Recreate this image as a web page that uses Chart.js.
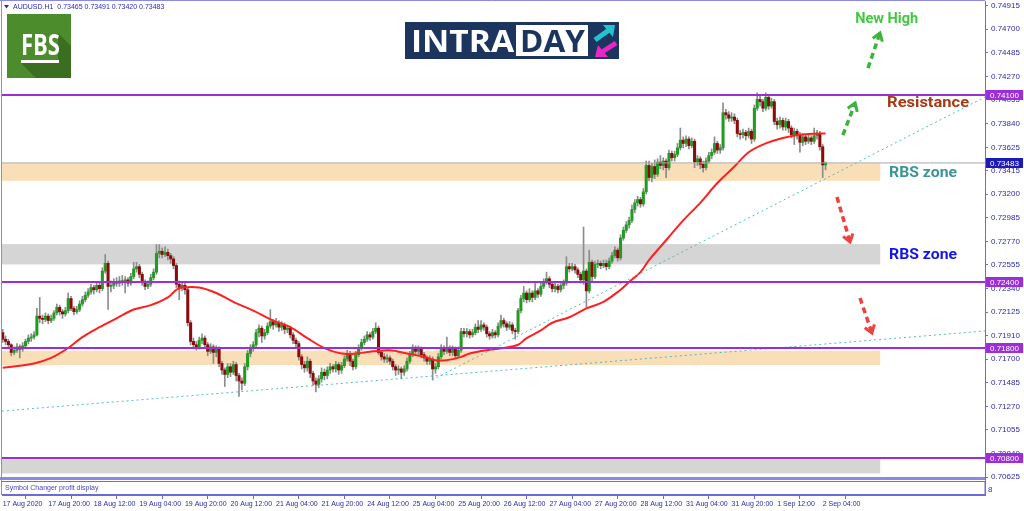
<!DOCTYPE html>
<html>
<head>
<meta charset="utf-8">
<title>AUDUSD H1</title>
<script src="https://cdn.jsdelivr.net/npm/chart.js@4.4.0/dist/chart.umd.min.js"></script>
<style>
  html, body { margin: 0; padding: 0; background: #fff; }
  canvas { display: block; }
</style>
</head>
<body>
<canvas id="chart" width="1024" height="511"></canvas>
<script>
// AUDUSD H1 candles (one entry per hour bar)
const firstOpen = 0.7194;
const closes = [
  0.7188,0.7186,0.7183,0.7176,0.7178,0.7181,0.7179,0.7182,0.7186,0.7189,
  0.7190,0.7192,0.7209,0.7207,0.7206,0.7209,0.7205,0.7207,0.7212,0.7217,
  0.7213,0.7211,0.7214,0.7225,0.7216,0.7213,0.7215,0.7220,0.7224,0.7228,
  0.7231,0.7235,0.7233,0.7237,0.7234,0.7250,0.7257,0.7236,0.7237,0.7240,
  0.7239,0.7241,0.7240,0.7242,0.7239,0.7245,0.7252,0.7254,0.7247,0.7240,
  0.7236,0.7238,0.7244,0.7249,0.7266,0.7268,0.7265,0.7267,0.7264,0.7261,
  0.7255,0.7238,0.7235,0.7237,0.7233,0.7203,0.7186,0.7183,0.7181,0.7187,
  0.7189,0.7183,0.7177,0.7181,0.7176,0.7179,0.7166,0.7160,0.7156,0.7163,
  0.7158,0.7165,0.7155,0.7150,0.7148,0.7163,0.7175,0.7180,0.7183,0.7194,
  0.7198,0.7191,0.7194,0.7200,0.7204,0.7201,0.7203,0.7199,0.7201,0.7197,
  0.7198,0.7192,0.7187,0.7184,0.7172,0.7165,0.7162,0.7168,0.7157,0.7150,
  0.7147,0.7152,0.7158,0.7155,0.7160,0.7163,0.7161,0.7165,0.7160,0.7164,
  0.7170,0.7175,0.7168,0.7163,0.7174,0.7180,0.7185,0.7188,0.7192,0.7190,
  0.7195,0.7198,0.7176,0.7172,0.7170,0.7171,0.7168,0.7163,0.7160,0.7161,
  0.7158,0.7161,0.7168,0.7174,0.7180,0.7177,0.7179,0.7174,0.7171,0.7168,
  0.7170,0.7161,0.7163,0.7172,0.7180,0.7177,0.7180,0.7176,0.7179,0.7173,
  0.7178,0.7195,0.7193,0.7195,0.7192,0.7194,0.7199,0.7197,0.7201,0.7199,
  0.7193,0.7191,0.7194,0.7192,0.7200,0.7205,0.7202,0.7199,0.7201,0.7196,
  0.7195,0.7214,0.7225,0.7230,0.7224,0.7230,0.7226,0.7232,0.7229,0.7236,
  0.7240,0.7243,0.7238,0.7234,0.7236,0.7233,0.7237,0.7239,0.7254,0.7252,
  0.7254,0.7251,0.7247,0.7242,0.7250,0.7232,0.7258,0.7245,0.7256,0.7257,
  0.7255,0.7257,0.7254,0.7259,0.7264,0.7269,0.7262,0.7280,0.7287,0.7292,
  0.7296,0.7306,0.7312,0.7315,0.7311,0.7322,0.7346,0.7335,0.7345,0.7338,
  0.7349,0.7346,0.7350,0.7344,0.7357,0.7353,0.7356,0.7362,0.7369,0.7366,
  0.7370,0.7364,0.7368,0.7349,0.7352,0.7347,0.7344,0.7350,0.7355,0.7358,
  0.7366,0.7360,0.7362,0.7394,0.7392,0.7389,0.7390,0.7387,0.7375,0.7374,
  0.7376,0.7373,0.7377,0.7370,0.7398,0.7406,0.7404,0.7398,0.7408,0.7400,
  0.7404,0.7386,0.7383,0.7387,0.7381,0.7386,0.7380,0.7374,0.7377,0.7374,
  0.7367,0.7372,0.7368,0.7371,0.7368,0.7373,0.7375,0.7363,0.73465,0.73483
];
const highs = [
  0.7197,0.7191,0.7188,0.7184,0.7181,0.7184,0.7183,0.7185,0.7188,0.7192,
  0.7193,0.7195,0.7216,0.7226,0.7210,0.7212,0.7211,0.7210,0.7214,0.7220,
  0.7219,0.7215,0.7217,0.7230,0.7227,0.7218,0.7218,0.7223,0.7227,0.7231,
  0.7234,0.7238,0.7237,0.7240,0.7239,0.7253,0.7265,0.7259,0.7241,0.7243,
  0.7244,0.7245,0.7246,0.7245,0.7244,0.7248,0.7258,0.7258,0.7256,0.7249,
  0.7242,0.7241,0.7247,0.7252,0.7274,0.7274,0.7271,0.7272,0.7270,0.7266,
  0.7263,0.7257,0.7241,0.7240,0.7239,0.7235,0.7205,0.7189,0.7186,0.7190,
  0.7193,0.7191,0.7185,0.7184,0.7183,0.7182,0.7181,0.7168,0.7162,0.7166,
  0.7166,0.7168,0.7167,0.7157,0.7153,0.7166,0.7178,0.7183,0.7186,0.7197,
  0.7201,0.7200,0.7197,0.7203,0.7215,0.7206,0.7207,0.7205,0.7204,0.7203,
  0.7201,0.7200,0.7194,0.7189,0.7186,0.7174,0.7168,0.7172,0.7170,0.7159,
  0.7153,0.7155,0.7162,0.7161,0.7163,0.7166,0.7165,0.7168,0.7167,0.7167,
  0.7173,0.7178,0.7177,0.7170,0.7177,0.7183,0.7188,0.7191,0.7195,0.7194,
  0.7198,0.7203,0.7200,0.7178,0.7175,0.7174,0.7173,0.7170,0.7165,0.7164,
  0.7163,0.7164,0.7171,0.7177,0.7183,0.7182,0.7182,0.7181,0.7176,0.7173,
  0.7173,0.7172,0.7166,0.7175,0.7183,0.7182,0.7190,0.7182,0.7182,0.7181,
  0.7181,0.7198,0.7198,0.7198,0.7197,0.7197,0.7202,0.7205,0.7205,0.7203,
  0.7201,0.7195,0.7197,0.7196,0.7203,0.7210,0.7207,0.7204,0.7204,0.7203,
  0.7198,0.7216,0.7228,0.7236,0.7232,0.7234,0.7232,0.7239,0.7234,0.7239,
  0.7243,0.7249,0.7245,0.7240,0.7239,0.7238,0.7240,0.7242,0.7263,0.7257,
  0.7257,0.7256,0.7253,0.7249,0.7290,0.7252,0.7269,0.7260,0.7259,0.7260,
  0.7259,0.7260,0.7260,0.7262,0.7267,0.7272,0.7271,0.7283,0.7290,0.7295,
  0.7299,0.7310,0.7315,0.7318,0.7317,0.7325,0.7350,0.7350,0.7348,0.7351,
  0.7352,0.7355,0.7353,0.7352,0.7360,0.7359,0.7359,0.7366,0.7380,0.7372,
  0.7373,0.7372,0.7371,0.7370,0.7355,0.7354,0.7350,0.7353,0.7358,0.7361,
  0.7372,0.7368,0.7365,0.7403,0.7397,0.7395,0.7394,0.7393,0.7389,0.7378,
  0.7379,0.7378,0.7380,0.7379,0.7401,0.7412,0.7410,0.7406,0.7412,0.7410,
  0.7407,0.7406,0.7389,0.7390,0.7389,0.7389,0.7388,0.7382,0.7380,0.7379,
  0.7376,0.7375,0.7374,0.7374,0.7373,0.7380,0.7378,0.7377,0.7365,0.73491
];
const lows = [
  0.7185,0.7183,0.7180,0.7173,0.7174,0.7176,0.7171,0.7177,0.7180,0.7184,
  0.7186,0.7188,0.7191,0.7203,0.7202,0.7204,0.7202,0.7203,0.7205,0.7210,
  0.7210,0.7207,0.7209,0.7212,0.7214,0.7210,0.7211,0.7213,0.7218,0.7222,
  0.7226,0.7229,0.7229,0.7231,0.7230,0.7232,0.7248,0.7215,0.7231,0.7234,
  0.7236,0.7236,0.7237,0.7230,0.7236,0.7237,0.7243,0.7249,0.7244,0.7237,
  0.7233,0.7234,0.7236,0.7242,0.7247,0.7262,0.7262,0.7263,0.7260,0.7257,
  0.7252,0.7235,0.7224,0.7232,0.7229,0.7200,0.7183,0.7180,0.7178,0.7179,
  0.7184,0.7180,0.7173,0.7175,0.7166,0.7172,0.7163,0.7156,0.7145,0.7153,
  0.7154,0.7156,0.7150,0.7136,0.7142,0.7146,0.7160,0.7172,0.7177,0.7181,
  0.7190,0.7185,0.7188,0.7192,0.7198,0.7197,0.7199,0.7195,0.7196,0.7193,
  0.7194,0.7189,0.7184,0.7181,0.7169,0.7161,0.7158,0.7159,0.7153,0.7146,
  0.7140,0.7144,0.7149,0.7151,0.7152,0.7157,0.7158,0.7158,0.7156,0.7157,
  0.7162,0.7168,0.7164,0.7160,0.7161,0.7172,0.7178,0.7183,0.7186,0.7187,
  0.7188,0.7193,0.7174,0.7169,0.7167,0.7167,0.7165,0.7160,0.7155,0.7156,
  0.7152,0.7155,0.7159,0.7166,0.7172,0.7174,0.7174,0.7171,0.7168,0.7165,
  0.7165,0.7151,0.7157,0.7161,0.7170,0.7174,0.7175,0.7173,0.7173,0.7170,
  0.7171,0.7176,0.7190,0.7190,0.7189,0.7190,0.7192,0.7194,0.7195,0.7196,
  0.7190,0.7188,0.7189,0.7189,0.7190,0.7198,0.7199,0.7196,0.7197,0.7193,
  0.7188,0.7193,0.7212,0.7222,0.7221,0.7222,0.7222,0.7224,0.7226,0.7227,
  0.7234,0.7238,0.7235,0.7231,0.7231,0.7230,0.7231,0.7234,0.7237,0.7249,
  0.7250,0.7248,0.7244,0.7239,0.7238,0.7217,0.7230,0.7240,0.7243,0.7253,
  0.7252,0.7253,0.7251,0.7252,0.7257,0.7262,0.7259,0.7260,0.7278,0.7285,
  0.7289,0.7294,0.7303,0.7309,0.7308,0.7309,0.7320,0.7332,0.7331,0.7334,
  0.7336,0.7343,0.7342,0.7335,0.7342,0.7350,0.7350,0.7354,0.7360,0.7362,
  0.7363,0.7361,0.7362,0.7344,0.7346,0.7343,0.7340,0.7342,0.7348,0.7352,
  0.7356,0.7357,0.7357,0.7360,0.7388,0.7386,0.7386,0.7384,0.7372,0.7370,
  0.7371,0.7369,0.7371,0.7366,0.7368,0.7396,0.7400,0.7395,0.7396,0.7397,
  0.7398,0.7383,0.7379,0.7380,0.7378,0.7378,0.7376,0.7371,0.7365,0.7370,
  0.7358,0.7364,0.7365,0.7366,0.7365,0.7366,0.7370,0.7360,0.7335,0.73420
];

// red moving average, sampled along the line (bar index, price)
const maBars = [0,11,17,23,28,34,40,46,52,58,61,63,69,75,81,88,95,101,107,113,119,124,130,136,142,
  148,152,156,161,164,170,176,181,184,189,193,199,205,211,217,220,224,227,233,239,245,251,257,262,268,274,280,286,289];
const maValues = [0.7162,0.7166,0.7171,0.7180,0.7190,0.7199,0.7207,0.7215,0.7219,0.7226,0.7233,0.7235,0.7235,0.7230,
  0.7222,0.7214,0.7205,0.7199,0.7189,0.7180,0.7175,0.7175,0.7177,0.7178,0.7175,0.7172,0.7169,0.7169,0.7172,0.7175,
  0.7178,0.7180,0.7183,0.7189,0.7196,0.7203,0.7208,0.7216,0.7222,0.7233,0.7240,0.7249,0.7260,0.7278,0.7296,0.7312,
  0.7330,0.7345,0.7358,0.7366,0.7371,0.7374,0.7375,0.7375];

// time axis: bar index of each label
const tickBars = [0,16,32,48,64,80,96,112,128,144,160,176,192,208,224,240,256,272,288];
const tickLabels = ['17 Aug 2020','17 Aug 20:00','18 Aug 12:00','19 Aug 04:00','19 Aug 20:00','20 Aug 12:00',
  '21 Aug 04:00','21 Aug 20:00','24 Aug 12:00','25 Aug 04:00','25 Aug 20:00','26 Aug 12:00','27 Aug 04:00',
  '27 Aug 20:00','28 Aug 12:00','31 Aug 04:00','31 Aug 20:00','1 Sep 12:00','2 Sep 04:00'];
const priceTicks = [0.74915,0.74700,0.74485,0.74270,0.74055,0.73840,0.73625,0.73415,0.73200,0.72985,0.72770,
  0.72555,0.72340,0.72125,0.71910,0.71700,0.71485,0.71270,0.71055,0.70840,0.70625];

// drawn objects
const levelPrices = [0.74100, 0.72400, 0.71800, 0.70800];
const bidPrice = 0.73483;
const zoneTops = [0.7348, 0.72745, 0.71775, 0.7079];
const zoneBottoms = [0.7332, 0.7256, 0.71645, 0.7066];
const zoneKinds = ['sand', 'grey', 'sand', 'grey'];
const zoneEndBar = 308.2;
const trendFrom = [[-0.25, 0.71227], [150.8, 0.7151]];
const trendTo = [[345, 0.71955], [345, 0.74082]];

const header = 'AUDUSD.H1  0.73465 0.73491 0.73420 0.73483';

const X_MIN = -0.25, X_MAX = 345;
const Y_MIN = 0.70464, Y_MAX = 0.74955;

// colours
const BULL = '#239b23';
const BEAR = '#8b0a0a';
const WICK = '#8c8c8c';
const PURPLE = '#9b2ed6';
const AXIS = '#6a6ad8';
const AXIS_TEXT = '#2b2ba8';
const TEAL_LINE = '#52bcbc';
const zoneFill = { sand: '#f8dfb8', grey: '#d5d5d5' };

const opens = closes.map((c, i) => i === 0 ? firstOpen : closes[i - 1]);

const notes = [
  { text: 'New High', bar: 299.4, price: 0.74791, color: '#44c844', width: 63 },
  { text: 'Resistance', bar: 310.6, price: 0.74027, color: '#a63a16', width: 82 },
  { text: 'RBS zone', bar: 311.3, price: 0.73391, color: '#3d9494', width: 68 },
  { text: 'RBS zone', bar: 311.3, price: 0.72645, color: '#1414e6', width: 68 }
];
const arrows = [
  { from: [303.9, 0.74345], to: [308.1, 0.74664], color: '#3cb43c' },
  { from: [295.1, 0.73736], to: [299.4, 0.74027], color: '#3cb43c' },
  { from: [293.0, 0.73173], to: [297.6, 0.72764], color: '#f04040' },
  { from: [301.1, 0.72255], to: [305.3, 0.71936], color: '#f04040' }
];

function fitText(ctx, text, x, y, width) {
  const w = ctx.measureText(text).width;
  ctx.save();
  ctx.translate(x, y);
  ctx.scale(width / w, 1);
  ctx.fillText(text, 0, 0);
  ctx.restore();
}

function drawArrow(ctx, x1, y1, x2, y2, color) {
  ctx.save();
  ctx.strokeStyle = color;
  ctx.lineWidth = 3.5;
  ctx.setLineDash([6, 4]);
  ctx.beginPath();
  ctx.moveTo(x1, y1);
  ctx.lineTo(x2, y2);
  ctx.stroke();
  ctx.setLineDash([]);
  const a = Math.atan2(y2 - y1, x2 - x1);
  ctx.lineWidth = 3;
  ctx.beginPath();
  ctx.moveTo(x2 - 9 * Math.cos(a - 0.6), y2 - 9 * Math.sin(a - 0.6));
  ctx.lineTo(x2, y2);
  ctx.lineTo(x2 - 9 * Math.cos(a + 0.6), y2 - 9 * Math.sin(a + 0.6));
  ctx.stroke();
  ctx.restore();
}

function priceBox(ctx, yPix, text, bg) {
  ctx.fillStyle = bg;
  ctx.fillRect(986, Math.round(yPix) - 5, 37, 10);
  ctx.fillStyle = '#ffffff';
  ctx.font = '8px "Liberation Sans"';
  ctx.textAlign = 'left';
  ctx.textBaseline = 'middle';
  ctx.fillText(text, 990, Math.round(yPix) + 0.5);
}

function drawLogos(ctx) {
  // FBS badge
  ctx.fillStyle = '#4c8c2c';
  ctx.fillRect(7, 14, 64, 64);
  ctx.fillStyle = '#3a6e21';
  ctx.beginPath();
  ctx.moveTo(58, 33); ctx.lineTo(71, 46); ctx.lineTo(71, 78);
  ctx.lineTo(36, 78); ctx.lineTo(21, 63); ctx.lineTo(58, 63);
  ctx.closePath();
  ctx.fill();
  ctx.fillStyle = '#ffffff';
  ctx.font = 'bold 29px "Open Sans"';
  ctx.textBaseline = 'alphabetic';
  ctx.textAlign = 'left';
  fitText(ctx, 'FBS', 21, 55, 39);
  ctx.fillRect(21, 60, 38, 3);

  // INTRADAY banner
  ctx.fillStyle = '#1b355f';
  ctx.fillRect(405, 22, 214, 37);
  ctx.fillStyle = '#ffffff';
  ctx.fillRect(516, 25, 72, 31);
  ctx.font = 'bold 31px "Open Sans"';
  fitText(ctx, 'INTRA', 411, 52, 103);
  ctx.fillStyle = '#1b355f';
  fitText(ctx, 'DAY', 520, 52, 65);
  ctx.lineCap = 'butt';
  ctx.lineWidth = 5;
  ctx.strokeStyle = '#22c3cf';
  ctx.beginPath(); ctx.moveTo(595, 40); ctx.lineTo(609, 30); ctx.stroke();
  ctx.fillStyle = '#22c3cf';
  ctx.beginPath(); ctx.moveTo(615, 25); ctx.lineTo(603, 25); ctx.lineTo(613, 37); ctx.closePath(); ctx.fill();
  ctx.strokeStyle = '#e827c4';
  ctx.beginPath(); ctx.moveTo(616, 43); ctx.lineTo(602, 52); ctx.stroke();
  ctx.fillStyle = '#e827c4';
  ctx.beginPath(); ctx.moveTo(595, 57); ctx.lineTo(608, 57); ctx.lineTo(598, 45); ctx.closePath(); ctx.fill();
}

const mt4Plugin = {
  id: 'mt4',
  beforeDatasetsDraw(chart) {
    const { ctx, chartArea: area, scales: { x, y } } = chart;
    ctx.save();
    const right = x.getPixelForValue(zoneEndBar);
    zoneKinds.forEach((kind, k) => {
      const top = y.getPixelForValue(zoneTops[k]);
      const bottom = y.getPixelForValue(zoneBottoms[k]);
      ctx.fillStyle = zoneFill[kind];
      ctx.fillRect(area.left, top, right - area.left, bottom - top);
    });
    ctx.restore();
  },
  afterDraw(chart) {
    const { ctx, chartArea: area, scales: { x, y } } = chart;
    ctx.save();

    // indicator sub-window under the main pane
    ctx.fillStyle = '#ffffff';
    ctx.fillRect(area.left, 480, area.right - area.left, area.bottom - 480);
    ctx.fillStyle = '#8a8ae2';
    ctx.fillRect(0, 477, area.right, 3);
    ctx.strokeStyle = AXIS;
    ctx.lineWidth = 1;
    ctx.strokeRect(1.5, 481.5, area.right - 1.5, 13);
    ctx.fillStyle = '#4646c4';
    ctx.font = '7px "Liberation Sans"';
    ctx.textBaseline = 'middle';
    ctx.textAlign = 'left';
    ctx.fillText('Symbol Changer profit display', 5, 488);
    ctx.font = '8px "Liberation Sans"';
    ctx.fillStyle = AXIS_TEXT;
    ctx.fillText('8', 988, 490);

    // frame
    ctx.strokeStyle = '#8a8ae2';
    ctx.beginPath();
    ctx.moveTo(0, 0.5); ctx.lineTo(area.right, 0.5);
    ctx.moveTo(1.5, 0); ctx.lineTo(1.5, 495);
    ctx.stroke();

    // header line
    ctx.fillStyle = '#2c2cba';
    ctx.beginPath();
    ctx.moveTo(4, 5); ctx.lineTo(9, 5); ctx.lineTo(6.5, 8.5); ctx.closePath(); ctx.fill();
    ctx.font = '7px "Liberation Sans"';
    ctx.fillText(header, 13, 7);

    drawLogos(ctx);

    // price labels on the right axis
    levelPrices.forEach(p => priceBox(ctx, y.getPixelForValue(p), p.toFixed(5), PURPLE));
    priceBox(ctx, y.getPixelForValue(bidPrice), bidPrice.toFixed(5), '#1c1cb4');

    // annotations
    arrows.forEach(a => drawArrow(ctx,
      x.getPixelForValue(a.from[0]), y.getPixelForValue(a.from[1]),
      x.getPixelForValue(a.to[0]), y.getPixelForValue(a.to[1]), a.color));
    ctx.font = 'bold 15px Roboto';
    ctx.textBaseline = 'middle';
    ctx.textAlign = 'left';
    notes.forEach(n => {
      ctx.fillStyle = n.color;
      fitText(ctx, n.text, x.getPixelForValue(n.bar), y.getPixelForValue(n.price), n.width);
    });
    ctx.restore();
  }
};

function flatLine(price, color, width) {
  return {
    type: 'line',
    data: [{ x: X_MIN, y: price }, { x: X_MAX, y: price }],
    borderColor: color, borderWidth: width, pointRadius: 0, order: 1
  };
}

const datasets = [
  {
    type: 'bar',
    data: closes.map((c, i) => ({ x: i, y: [lows[i], highs[i]] })),
    backgroundColor: WICK, barThickness: 1, grouped: false, order: 5
  },
  {
    type: 'bar',
    data: closes.map((c, i) => ({ x: i, y: [opens[i], c] })),
    backgroundColor: closes.map((c, i) => c >= opens[i] ? BULL : BEAR),
    barThickness: 2.4, minBarLength: 1, grouped: false, order: 4
  },
  {
    type: 'line',
    data: maBars.map((b, k) => ({ x: b, y: maValues[k] })),
    borderColor: '#ff1f1f', borderWidth: 2, pointRadius: 0, tension: 0.35, order: 3
  },
  flatLine(bidPrice, '#a8a8a8', 1),
  ...levelPrices.map(p => flatLine(p, PURPLE, 2)),
  ...trendFrom.map((f, k) => ({
    type: 'line',
    data: [{ x: f[0], y: f[1] }, { x: trendTo[k][0], y: trendTo[k][1] }],
    borderColor: TEAL_LINE, borderWidth: 1, borderDash: [2, 3], pointRadius: 0, order: 2
  }))
];

Chart.defaults.font.family = '"Liberation Sans", sans-serif';

new Chart(document.getElementById('chart').getContext('2d'), {
  type: 'bar',
  data: { datasets },
  options: {
    responsive: false,
    animation: false,
    events: [],
    layout: { autoPadding: false, padding: { left: 2, top: 1, right: 0, bottom: 0 } },
    plugins: { legend: { display: false }, tooltip: { enabled: false } },
    scales: {
      x: {
        type: 'linear', position: 'bottom', min: X_MIN, max: X_MAX, offset: false,
        afterBuildTicks: s => { s.ticks = tickBars.map(v => ({ value: v })); },
        afterFit: s => { s.height = 16; s.paddingLeft = 0; s.paddingRight = 0; },
        ticks: {
          callback: v => tickLabels[tickBars.indexOf(v)],
          autoSkip: false, maxRotation: 0, minRotation: 0, align: 'start',
          padding: 1, color: AXIS_TEXT, font: { size: 7 }
        },
        grid: { drawOnChartArea: false, tickLength: 4, color: AXIS },
        border: { color: AXIS }
      },
      y: {
        type: 'linear', position: 'right', min: Y_MIN, max: Y_MAX,
        afterBuildTicks: s => { s.ticks = priceTicks.map(v => ({ value: v })); },
        afterFit: s => { s.width = 39; s.paddingTop = 0; s.paddingBottom = 0; },
        ticks: {
          callback: v => v.toFixed(5),
          padding: 3, color: AXIS_TEXT, font: { size: 8 }
        },
        grid: { drawOnChartArea: false, tickLength: 3, color: AXIS },
        border: { color: AXIS }
      }
    }
  },
  plugins: [mt4Plugin]
});
</script>
</body>
</html>
